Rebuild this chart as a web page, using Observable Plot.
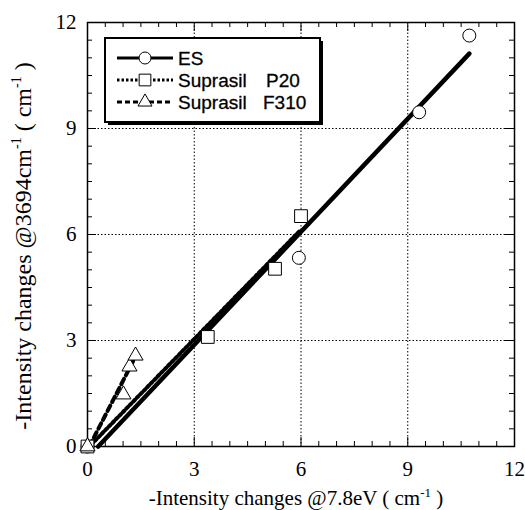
<!DOCTYPE html>
<html><head><meta charset="utf-8">
<script src="https://cdn.jsdelivr.net/npm/d3@7"></script>
<script src="https://cdn.jsdelivr.net/npm/@observablehq/plot@0.6"></script>
<style>body{margin:0;background:#fff}</style>
</head><body><div id="chart"></div>
<script>
// ---- data ----
const seriesNames = ["ES", "Suprasil", "Suprasil"];
const seriesGrades = ["", "P20", "F310"];
const esX = [0, 5.94, 9.32, 10.73];
const esY = [0, 5.34, 9.46, 11.63];
const p20X = [0, 3.38, 5.27, 6.0];
const p20Y = [0, 3.1, 5.03, 6.52];
const f310X = [0, 1.01, 1.18, 1.35];
const f310Y = [0, 1.47, 2.26, 2.57];
const esFitX = [0.3, 10.73];
const esFitY = [0, 11.12];
const p20FitX = [0.15, 6.03];
const p20FitY = [0, 6.07];
const f310FitX = [0.05, 1.3];
const f310FitY = [0, 2.45];
const majorTicks = [0, 3, 6, 9, 12];
const gridTicks = [3, 6, 9];
const minorTicks = [0.5, 1, 1.5, 2, 2.5, 3.5, 4, 4.5, 5, 5.5, 6.5, 7, 7.5, 8, 8.5, 9.5, 10, 10.5, 11, 11.5];
const xTitle = ["-Intensity changes @7.8eV ( cm", "-1", " )"];
const yTitle = ["-Intensity changes @3694cm", "-1", " ( cm", "-1", " )"];

const zip = (xs, ys) => xs.map((x, i) => ({x, y: ys[i]}));

const W = 525, H = 510;
const mL = 87, mR = 11, mT = 22, mB = 64;
const pw = W - mL - mR, ph = H - mT - mB;
const serif = "'Liberation Serif','Times New Roman',serif";
const sans = "'Liberation Sans',Arial,Helvetica,sans-serif";

const chart = Plot.plot({
  width: W, height: H,
  marginLeft: mL, marginRight: mR, marginTop: mT, marginBottom: mB,
  x: {domain: [0, 12]},
  y: {domain: [0, 12]},
  style: {fontFamily: serif, fontSize: "21px", color: "#000", background: "#fff"},
  marks: [
    Plot.gridX(gridTicks, {stroke: "#000", strokeOpacity: 1, strokeWidth: 1, strokeDasharray: "1.5,2"}),
    Plot.gridY(gridTicks, {stroke: "#000", strokeOpacity: 1, strokeWidth: 1, strokeDasharray: "1.5,2"}),
    // inward ticks on all four sides
    Plot.tickX(minorTicks, {x: d => d, insetTop: ph - 5, stroke: "#000", strokeWidth: 1}),
    Plot.tickX(minorTicks, {x: d => d, insetBottom: ph - 5, stroke: "#000", strokeWidth: 1}),
    Plot.tickY(minorTicks, {y: d => d, insetRight: pw - 5, stroke: "#000", strokeWidth: 1}),
    Plot.tickY(minorTicks, {y: d => d, insetLeft: pw - 5, stroke: "#000", strokeWidth: 1}),
    Plot.tickX(majorTicks, {x: d => d, insetTop: ph - 9, stroke: "#000", strokeWidth: 1}),
    Plot.tickX(majorTicks, {x: d => d, insetBottom: ph - 9, stroke: "#000", strokeWidth: 1}),
    Plot.tickY(majorTicks, {y: d => d, insetRight: pw - 9, stroke: "#000", strokeWidth: 1}),
    Plot.tickY(majorTicks, {y: d => d, insetLeft: pw - 9, stroke: "#000", strokeWidth: 1}),
    Plot.axisX(majorTicks, {anchor: "bottom", tickSize: 0, tickPadding: 15, label: null, fontSize: 21}),
    Plot.axisY(majorTicks, {anchor: "left", tickSize: 0, tickPadding: 11, label: null, fontSize: 21}),
    Plot.frame({stroke: "#000", strokeWidth: 1.5}),
    // fitted lines
    Plot.line(zip(esFitX, esFitY), {x: "x", y: "y", stroke: "#000", strokeWidth: 4.5}),
    Plot.line(zip(p20FitX, p20FitY), {x: "x", y: "y", stroke: "#000", strokeWidth: 4, strokeDasharray: "2.5,2.5", dy: -2, dx: -1.5}),
    Plot.line(zip(f310FitX, f310FitY), {x: "x", y: "y", stroke: "#000", strokeWidth: 4, strokeDasharray: "6,4"}),
    // data points
    Plot.dot(zip(esX, esY), {x: "x", y: "y", symbol: "circle", r: 6.5, fill: "#fff", stroke: "#000", strokeWidth: 1}),
    Plot.dot(zip(p20X, p20Y), {x: "x", y: "y", symbol: "square", r: 7.2, fill: "#fff", stroke: "#000", strokeWidth: 1}),
    Plot.dot(zip(f310X, f310Y), {x: "x", y: "y", symbol: "triangle", r: 5.6, fill: "#fff", stroke: "#000", strokeWidth: 1})
  ]
});
document.getElementById("chart").append(chart);

const svg = d3.select(chart);

// axis titles with superscripts
function titleText(g, parts, fs) {
  parts.forEach((p, i) => {
    const sup = p === "-1";
    g.append("tspan")
      .attr("dy", sup ? -0.4 * fs : (i > 0 && parts[i - 1] === "-1" ? 0.4 * fs : 0))
      .attr("font-size", sup ? Math.round(fs * 0.6) : fs)
      .text(p);
  });
}
const xt = svg.append("text")
  .attr("x", 296).attr("y", 505)
  .attr("text-anchor", "middle")
  .attr("font-family", serif).attr("font-size", 21).attr("fill", "#000");
titleText(xt, xTitle, 21);
const yt = svg.append("text")
  .attr("transform", `translate(31,${246}) rotate(-90)`)
  .attr("text-anchor", "middle")
  .attr("font-family", serif).attr("font-size", 24).attr("fill", "#000");
titleText(yt, yTitle, 24);

// legend
const lg = svg.append("g");
const bx = 105, by = 38, bw = 215, bh = 84;
lg.append("rect").attr("x", bx + 3).attr("y", by + 3).attr("width", bw).attr("height", bh).attr("fill", "#000");
lg.append("rect").attr("x", bx).attr("y", by).attr("width", bw).attr("height", bh)
  .attr("fill", "#fff").attr("stroke", "#000").attr("stroke-width", 2);
const rowY = [58, 80, 102];
const dashes = [null, "2.5,2", "5,3"];
const symbols = [d3.symbolCircle, d3.symbolSquare, d3.symbolTriangle];
const symSize = [Math.PI * 6 * 6, Math.PI * 6.6 * 6.6, Math.PI * 5.2 * 5.2];
const gradeX = [0, 266, 263];
seriesNames.forEach((name, i) => {
  const y = rowY[i];
  const l = lg.append("line").attr("x1", 117).attr("x2", 173).attr("y1", y).attr("y2", y)
    .attr("stroke", "#000").attr("stroke-width", 3);
  if (dashes[i]) l.attr("stroke-dasharray", dashes[i]);
  lg.append("path").attr("d", d3.symbol(symbols[i], symSize[i])())
    .attr("transform", `translate(145,${y})`).attr("fill", "#fff").attr("stroke", "#000").attr("stroke-width", 1);
  lg.append("text").attr("x", 178).attr("y", y).attr("dy", "0.36em").attr("text-anchor", "start")
    .attr("font-family", sans).attr("font-size", 19).attr("fill", "#000")
    .attr("stroke", "#000").attr("stroke-width", 0.3).text(name);
  if (seriesGrades[i]) {
    lg.append("text").attr("x", gradeX[i]).attr("y", y).attr("dy", "0.36em").attr("text-anchor", "start")
      .attr("font-family", sans).attr("font-size", 19).attr("fill", "#000")
      .attr("stroke", "#000").attr("stroke-width", 0.3).text(seriesGrades[i]);
  }
});
</script>
</body></html>
